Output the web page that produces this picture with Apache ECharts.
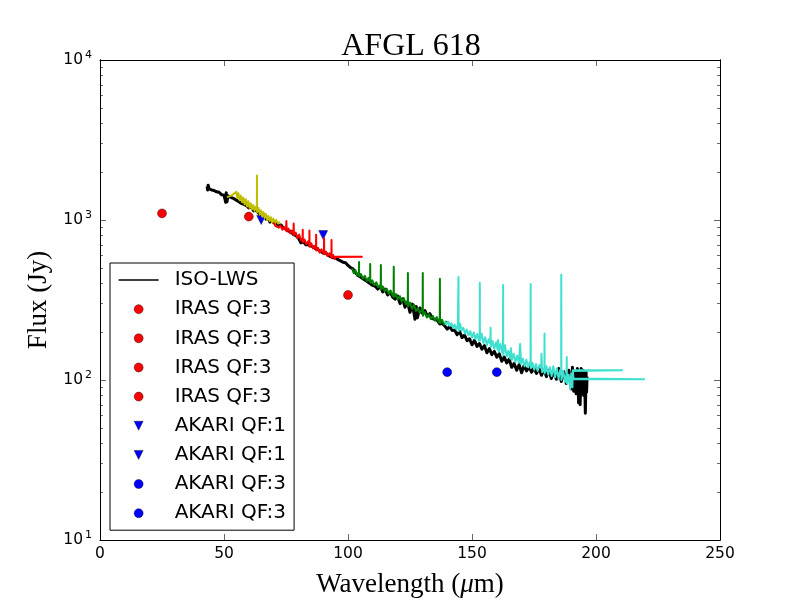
<!DOCTYPE html>
<html><head><meta charset="utf-8">
<style>html,body{margin:0;padding:0;background:#fff}#c{width:800px;height:600px}</style>
<script src="https://cdn.jsdelivr.net/npm/echarts@6/dist/echarts.min.js"></script>
</head><body><div id="c"></div>
<script>
const title = 'AFGL 618';
const xTicks = [0, 50, 100, 150, 200, 250];
const yMinor = [20,30,40,50,60,70,80,90,200,300,400,500,600,700,800,900,2000,3000,4000,5000,6000,7000,8000,9000];
const irasA = [[25, 1100]];
const irasB = [[60, 1050]];
const irasC = [[100, 340]];
const irasD = [];
const akariUpA = [[65, 1000]];
const akariUpB = [[90, 805]];
const akariA = [[140, 112]];
const akariB = [[160, 112]];
const lws = [[43.2,1620],[43.4,1540],[43.6,1650],[44,1570],[44.5,1600],[45,1540],[46,1530],[47,1500],[48,1490],[49,1440],[50,1430],[50.5,1400],[50.7,1290],[50.9,1480],[51.2,1300],[51.6,1420],[52.5,1390],[54,1360],[56,1300],[57,1270],[58,1250],[59,1230],[60,1190],[61,1200],[62,1140],[63,1150],[64,1100],[65,1060],[66,1080],[67,1010],[68,1020],[68.5,970],[69,1000],[70,960],[71,970],[72,920],[73,930],[74,890],[75,880],[76,850],[77,850],[78,810],[79,800],[80,770],[81,720],[82,730],[83,700],[84,700],[85,690],[86,680],[87,660],[88,650],[89,640],[90,620],[91,625],[92,600],[93,590],[94,580],[95,580],[96,565],[97,555],[98,545],[99,540],[100,520],[101,505],[102,495],[103,470],[104,450],[105,440],[106,430],[107,420],[108,410],[109,400],[110,390],[111,385],[112,370],[113,385],[114,355],[115,370],[116,340],[117,355],[118,330],[119,320],[120,335],[121,300],[122,322],[123,285],[124,308],[125,265],[126,298],[127,240],[127.5,288],[128,245],[129,282],[130,262],[131,272],[132,250],[133,260],[134,242],[135,240],[136,236],[137,224],[138,226],[139,218],[140,208],[141,216],[142,204],[143,205],[144,192],[145,201],[146,184],[147,191],[148,176],[149,181],[150,166],[151,177],[152,162],[153,169],[154,156],[155,164],[156,148],[157,157],[158,144],[159,151],[160,139],[161,146],[162,131],[163,139],[164,128],[165,135],[166,120],[167,127],[168,115],[169,125],[170,111],[171,123],[172,114],[173,121],[174,112],[175,119],[176,110],[177,118],[178,107],[179,116],[180,105],[181,115],[182,102],[183,113],[184,101],[185,118],[186,98],[187,113],[188,95],[189,115],[190,88],[190.5,120],[191,85],[191.5,112],[192,82],[192.5,118],[193,72],[193.3,110],[193.6,70],[194,118],[194.4,82],[194.8,115],[195,80],[195.4,110],[195.7,62],[196,112],[196.2,84],[196.4,105]];
const yellow = [[51.2,1390],[53,1420],[55,1500],[55.4,1370],[55.8,1470],[56.3,1330],[56.8,1420],[57.3,1290],[57.8,1380],[58.3,1250],[58.8,1350],[59.3,1215],[59.8,1310],[60.3,1190],[60.8,1270],[61.3,1165],[61.8,1240],[62.3,1140],[62.8,1210],[63.25,1150],[63.3,1900],[63.35,1120],[63.9,1190],[64.4,1080],[64.9,1150],[65.4,1050],[65.9,1120],[66.4,1030],[66.9,1090],[67.4,1000],[67.9,1060],[68.4,985],[68.9,1040],[69.4,965],[69.9,1020],[70.5,950],[71,1000],[71.8,950],[72.6,975]];
const red = [[70,965],[70.7,920],[71.4,945],[72.1,895],[72.8,925],[73.5,870],[74.2,905],[75,860],[75.15,985],[75.3,850],[76,885],[76.7,825],[77.4,860],[78,815],[78.1,950],[78.2,805],[78.9,835],[79.6,770],[80.3,810],[81,745],[81.7,775],[81.75,870],[81.8,725],[82.5,755],[83.2,705],[83.9,735],[84.4,690],[84.45,860],[84.5,680],[85.2,715],[85.9,665],[86.6,690],[87.1,650],[87.15,810],[87.2,645],[87.9,670],[88.6,625],[89.3,655],[90.3,615],[90.35,770],[90.4,610],[91.1,635],[91.8,595],[92.5,620],[93.3,585],[93.35,750],[93.4,580],[94,605],[94.7,570],[94.75,588],[105.6,590],[94.8,590]];
const green = [[101.6,500],[102.3,465],[103,485],[103.7,450],[104.4,470],[104.45,546],[104.5,445],[105.2,460],[106,430],[106.8,448],[107.6,415],[108.3,435],[108.9,410],[108.95,530],[109,405],[109.8,420],[110.6,392],[111.4,408],[112.2,380],[113.2,395],[113.25,523],[113.3,368],[114,385],[114.8,358],[115.6,372],[116.4,345],[117.2,362],[118,336],[118.4,350],[118.45,510],[118.5,330],[119.3,345],[120.1,318],[120.9,334],[121.7,308],[122.5,325],[123.3,298],[124.1,312],[124.15,467],[124.2,290],[125,305],[125.8,278],[126.6,296],[127.4,270],[128.2,282],[129,262],[129.8,276],[130.1,268],[130.15,467],[130.2,252],[131,266],[131.8,246],[132.6,258],[133.4,240],[134.2,252],[135,235],[135.8,247],[136.6,230],[137,242],[137.05,430],[137.1,226],[137.9,238],[138.7,222],[139.5,232],[140,224]];
const cyan = [[139,232],[139.7,222],[140.4,232],[141,218],[141.7,226],[142.4,212],[143,222],[143.7,208],[144.3,220],[144.55,440],[144.6,202],[145.2,225],[145.8,204],[146.5,212],[147.2,195],[147.9,207],[148.6,190],[149.3,202],[150,184],[150.7,198],[151.4,180],[152.1,194],[152.8,176],[153.1,190],[153.15,405],[153.2,176],[153.9,195],[154.6,170],[155.3,185],[156,165],[156.7,180],[157.4,168],[157.5,212],[157.6,160],[158.3,175],[159,156],[159.7,172],[160.3,155],[160.5,178],[160.8,150],[161.5,168],[162.2,148],[162.5,155],[162.55,393],[162.6,143],[163.3,165],[164,140],[164.7,152],[165.4,136],[165.7,158],[166.1,134],[166.8,146],[167.5,129],[168.2,142],[168.9,128],[169.4,168],[169.8,126],[170.5,136],[171.2,122],[171.9,134],[172.6,120],[173.3,130],[173.6,125],[173.65,398],[173.7,119],[174.4,128],[175.1,116],[175.8,126],[176.5,114],[177.2,124],[177.9,120],[178,146],[178.3,112],[179.2,120],[179.25,195],[179.3,110],[180,122],[180.7,108],[181.4,120],[182.1,106],[182.8,122],[183.5,104],[184.2,118],[184.9,102],[185.6,116],[185.95,108],[186,455],[186.05,100],[186.8,114],[187.5,97],[188.15,110],[188.2,139],[188.3,95],[189,108],[189.6,88],[190,110],[190.5,90],[190.6,114],[210.5,115],[190.7,115],[190.9,102],[219.4,101],[191,101]];

const FAM = 'DejaVu Sans';
const SERIF = 'Liberation Serif';
const DOWN = 'path://M0,0L10,0L5,10Z';
function dot(name, data, color, tri) {
  return { type:'scatter', name, data, symbol: tri ? DOWN : 'circle', symbolSize:9, symbolKeepAspect:true, z:3,
    itemStyle:{color, borderColor:'#000', borderWidth:0.4, opacity:1} };
}
function curve(name, data, color, w, z) {
  return { type:'line', name, data, symbol:'none', z, animation:false,
    lineStyle:{color, width:w, join:'round'}, itemStyle:{color} };
}
const names = ['ISO-LWS','IRAS QF:3#1','IRAS QF:3#2','IRAS QF:3#3','IRAS QF:3#4','AKARI QF:1#1','AKARI QF:1#2','AKARI QF:3#1','AKARI QF:3#2'];
const noLine = {show:false};
function yTicksAxis(position, minor, labels) {
  return { type:'log', logBase:10, min:10, max:10000, position, z:5,
    axisLine:{show:true, onZero:false, lineStyle:{color:'#000', width:1}},
    splitLine:noLine, minorTick:noLine,
    axisTick: minor ? {show:true, inside:true, length:3, lineStyle:{color:'#000',width:0.6}, customValues:yMinor}
                    : {show:true, inside:true, length:6, lineStyle:{color:'#000',width:0.6}},
    axisLabel: labels ? {show:true, margin:8, color:'#000', fontFamily:FAM, fontSize:15.5,
        formatter:v => '10{s|' + Math.round(Math.log10(v)) + '}',
        rich:{s:{fontFamily:FAM, fontSize:11, color:'#000', verticalAlign:'top', padding:[0,0,9,2]}}} : {show:false},
    ...(labels ? {name:'Flux (Jy)', nameLocation:'middle', nameGap:43,
        nameTextStyle:{fontFamily:SERIF, fontSize:27, color:'#000'}} : {})
  };
}
function xTicksAxis(position, labels) {
  return { type:'value', min:xTicks[0], max:xTicks[xTicks.length-1], interval:50, position, z:5,
    axisLine:{show:true, onZero:false, lineStyle:{color:'#000', width:1}},
    splitLine:noLine,
    axisTick:{show:true, inside:true, length:6, lineStyle:{color:'#000',width:0.6}},
    axisLabel: labels ? {show:true, margin:6, color:'#000', fontFamily:FAM, fontSize:15.5} : {show:false},
    ...(labels ? {name:'Wavelength ({i|μ}m)', nameLocation:'middle', nameGap:31,
        nameTextStyle:{fontFamily:SERIF, fontSize:27, color:'#000', rich:{i:{fontFamily:SERIF, fontSize:27, fontStyle:'italic', color:'#000'}}}} : {})
  };
}
const chart = echarts.init(document.getElementById('c'), null, {renderer:'canvas', width:800, height:600});
chart.setOption({
  animation:false,
  backgroundColor:'#fff',
  title:{text:title, left:406, top:26, textAlign:'center',
    textStyle:{fontFamily:SERIF, fontWeight:'normal', fontSize:32, color:'#000'}},
  grid:{left:100, right:80, top:60, bottom:60, containLabel:false, outerBoundsMode:'none'},
  xAxis:[xTicksAxis('bottom',true), xTicksAxis('top',false)],
  yAxis:[yTicksAxis('left',false,true), yTicksAxis('right',false,false), yTicksAxis('left',true,false), yTicksAxis('right',true,false)],
  legend:{ orient:'vertical', left:110, top:263, height:260, z:10,
    data:names.map((name,i)=> i===0 ? {name, itemStyle:{opacity:0}, lineStyle:{width:1.3}} : {name, itemStyle:{borderWidth:0.4}}),
    backgroundColor:'#fff', borderColor:'#000', borderWidth:1, borderRadius:0,
    padding:[7,8,7,8], itemWidth:40, itemHeight:9, itemGap:9.15, selectedMode:false,
    formatter:n => n.split('#')[0],
    textStyle:{fontFamily:FAM, fontSize:20, color:'#000', padding:[0,0,0,11]} },
  series:[
    curve(names[0], lws, '#000', 3, 2),
    dot(names[1], irasA, '#ff0000'),
    dot(names[2], irasB, '#ff0000'),
    dot(names[3], irasC, '#ff0000'),
    dot(names[4], irasD, '#ff0000'),
    dot(names[5], akariUpA, '#0000ff', true),
    dot(names[6], akariUpB, '#0000ff', true),
    dot(names[7], akariA, '#0000ff'),
    dot(names[8], akariB, '#0000ff'),
    curve('PACS-y', yellow, '#bfbf00', 2, 4),
    curve('PACS-r', red, '#ff0000', 2, 4),
    curve('SPIRE-g', green, '#008000', 2, 4),
    curve('SPIRE-c', cyan, '#40e0d0', 2, 4)
  ]
});
</script></body></html>
